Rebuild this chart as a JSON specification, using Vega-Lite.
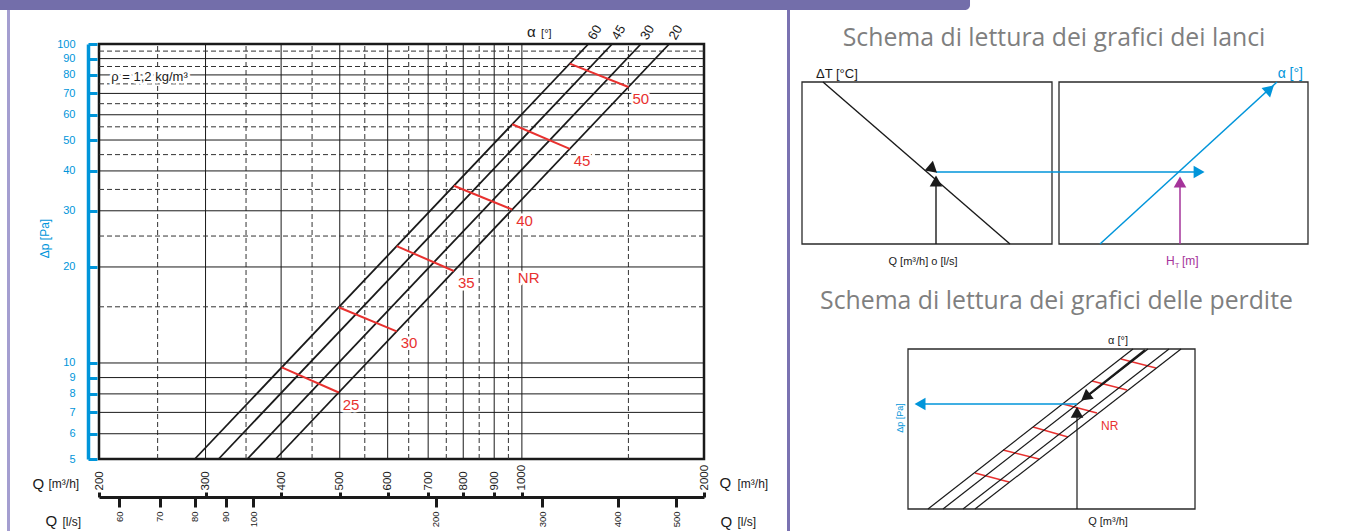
{
  "$schema": "https://vega.github.io/schema/vega-lite/v6.json",
  "padding": 0,
  "background": "white",
  "config": {
    "view": {"stroke": null},
    "axis": {"grid": false},
    "font": "Liberation Sans",
    "concat": {"spacing": 0}
  },
  "datasets": {
    "vmajor": [{"Q": 300}, {"Q": 400}, {"Q": 500}, {"Q": 600}, {"Q": 700}, {"Q": 800}, {"Q": 900}, {"Q": 1000}],
    "vminor": [{"Q": 250}, {"Q": 350}, {"Q": 450}, {"Q": 550}, {"Q": 650}, {"Q": 750}, {"Q": 850}, {"Q": 950}, {"Q": 1500}],
    "hmajor": [{"dp": 6}, {"dp": 7}, {"dp": 8}, {"dp": 9}, {"dp": 10}, {"dp": 20}, {"dp": 30}, {"dp": 40}, {"dp": 50}, {"dp": 60}, {"dp": 70}, {"dp": 80}, {"dp": 90}],
    "hminor": [{"dp": 15}, {"dp": 25}, {"dp": 35}, {"dp": 45}, {"dp": 55}, {"dp": 65}, {"dp": 75}, {"dp": 85}, {"dp": 95}],
    "curves": [
      {"alpha": "60", "Q": 288, "dp": 5}, {"alpha": "60", "Q": 1288, "dp": 100},
      {"alpha": "45", "Q": 315.3, "dp": 5}, {"alpha": "45", "Q": 1410, "dp": 100},
      {"alpha": "30", "Q": 351.7, "dp": 5}, {"alpha": "30", "Q": 1573, "dp": 100},
      {"alpha": "20", "Q": 391.8, "dp": 5}, {"alpha": "20", "Q": 1752, "dp": 100}
    ],
    "nr": [
      {"nr": "25", "q1": 401, "dp1": 9.69, "q2": 498, "dp2": 8.08},
      {"nr": "30", "q1": 498, "dp1": 14.95, "q2": 621, "dp2": 12.56},
      {"nr": "35", "q1": 621, "dp1": 23.25, "q2": 772, "dp2": 19.42},
      {"nr": "40", "q1": 772, "dp1": 35.93, "q2": 964, "dp2": 30.28},
      {"nr": "45", "q1": 964, "dp1": 56.02, "q2": 1200, "dp2": 46.91},
      {"nr": "50", "q1": 1200, "dp1": 86.8, "q2": 1500, "dp2": 73.3}
    ],
    "nrlabels": [
      {"label": "25", "Q": 498, "dp": 8.08},
      {"label": "30", "Q": 621, "dp": 12.56},
      {"label": "35", "Q": 772, "dp": 19.42},
      {"label": "40", "Q": 964, "dp": 30.28},
      {"label": "45", "Q": 1200, "dp": 46.91},
      {"label": "50", "Q": 1500, "dp": 73.3},
      {"label": "NR", "Q": 970, "dp": 20.1}
    ]
  },
  "spacing": 0,
  "bounds": "flush",
  "vconcat": [
    {
      "width": 1351, "height": 44,
      "encoding": {
        "x": {"field": "x", "type": "quantitative", "scale": {"domain": [0, 100], "nice": false, "zero": false}, "axis": null},
        "y": {"field": "y", "type": "quantitative", "scale": {"domain": [0, 100], "nice": false, "zero": false}, "axis": null}
      },
      "layer": [
        {"data": {"values": [{"x": 0, "x2": 71.8, "y": 77.27, "y2": 100}]},
          "mark": {"type": "rect", "color": "#736eaa", "cornerRadiusBottomRight": 10},
          "encoding": {"x2": {"field": "x2"}, "y2": {"field": "y2"}}},
        {"data": {"values": [{"x": 0.629, "x2": 0.629, "y": 0, "y2": 77.27}]},
          "mark": {"type": "rule", "color": "#a49ed0", "strokeWidth": 3},
          "encoding": {"x2": {"field": "x2"}, "y2": {"field": "y2"}}},
        {"data": {"values": [{"x": 58.364, "x2": 58.364, "y": 0, "y2": 77.27}]},
          "mark": {"type": "rule", "color": "#7a72b1", "strokeWidth": 3},
          "encoding": {"x2": {"field": "x2"}, "y2": {"field": "y2"}}}
      ]
    },
    {
      "spacing": 0,
      "bounds": "flush",
      "hconcat": [
        {"width": 7, "height": 487, "data": {"values": []}, "mark": "point"},
        {"width": 3, "height": 487, "data": {"values": [{}]}, "mark": {"type": "rect", "color": "#a49ed0"}, "encoding": {}},
        {"width": 89, "height": 487, "data": {"values": []}, "mark": "point"},
        {
          "width": 605, "height": 415,
          "view": {"stroke": "#1a1a1a", "strokeWidth": 2.5},
          "resolve": {"axis": {"x": "independent", "y": "independent"}},
          "layer": [
            {
              "data": {"name": "vmajor"},
              "mark": {"type": "rule", "color": "#1a1a1a", "strokeWidth": 1},
              "encoding": {
                "x": {"field": "Q", "type": "quantitative", "scale": {"type": "log", "domain": [200, 2000], "nice": false, "zero": false},
                  "axis": {"orient": "bottom", "values": [200, 300, 400, 500, 600, 700, 800, 900, 1000, 2000], "domain": false, "ticks": false, "tickSize": 0, "grid": false,
                    "labelAngle": 270, "labelAlign": "left", "labelBaseline": "middle", "labelPadding": 31, "labelFontSize": 11.5, "labelColor": "#1a1a1a",
                    "labelExpr": "datum.value", "labelOverlap": false, "labelFlush": false, "labelBound": false,
                    "title": "Q", "titleFontSize": 15, "titleFontWeight": "normal", "titleColor": "#1a1a1a", "titleAlign": "left", "titleBaseline": "alphabetic", "titleX": -67, "titleY": 29}},
                "y": {"datum": 5, "type": "quantitative", "scale": {"type": "log", "domain": [5, 100], "nice": false, "zero": false}, "axis": null},
                "y2": {"datum": 100}
              }
            },
            {
              "data": {"name": "vminor"},
              "mark": {"type": "rule", "color": "#333333", "strokeWidth": 1, "strokeDash": [5, 3]},
              "encoding": {
                "x": {"field": "Q", "type": "quantitative", "scale": {"type": "log", "domain": [200, 2000], "nice": false, "zero": false},
                  "axis": {"orient": "bottom", "offset": 33, "values": [200, 300, 400, 500, 600, 700, 800, 900, 1000, 2000], "domain": false, "ticks": true, "tickSize": 5, "tickWidth": 3, "tickColor": "#1a1a1a", "labels": false, "grid": false,
                    "title": "[m³/h]", "titleFontSize": 12, "titleFontWeight": "normal", "titleColor": "#1a1a1a", "titleAlign": "left", "titleBaseline": "alphabetic", "titleX": -51, "titleY": -5}},
                "y": {"datum": 5, "type": "quantitative", "scale": {"type": "log", "domain": [5, 100], "nice": false, "zero": false}, "axis": null},
                "y2": {"datum": 100}
              }
            },
            {
              "data": {"name": "hmajor"},
              "mark": {"type": "rule", "color": "#1a1a1a", "strokeWidth": 1},
              "encoding": {
                "y": {"field": "dp", "type": "quantitative", "scale": {"type": "log", "domain": [5, 100], "nice": false, "zero": false},
                  "axis": {"orient": "left", "offset": 11, "values": [5, 6, 7, 8, 9, 10, 20, 30, 40, 50, 60, 70, 80, 90, 100], "domain": true, "domainColor": "#0095da", "domainWidth": 3.5,
                    "ticks": false, "tickSize": 0, "grid": false, "labelColor": "#0095da", "labelFontSize": 11, "labelPadding": 13, "labelExpr": "datum.value", "labelOverlap": false, "labelFlush": false, "labelBound": false,
                    "title": "Δp [Pa]", "titleColor": "#0095da", "titleFontSize": 12, "titleFontWeight": "normal", "titleAngle": 270, "titleAlign": "center", "titleBaseline": "middle", "titleX": -44, "titleY": 194}},
                "x": {"datum": 200, "type": "quantitative", "scale": {"type": "log", "domain": [200, 2000], "nice": false, "zero": false}, "axis": null},
                "x2": {"datum": 2000}
              }
            },
            {
              "data": {"name": "hminor"},
              "mark": {"type": "rule", "color": "#333333", "strokeWidth": 1, "strokeDash": [5, 3]},
              "encoding": {
                "y": {"field": "dp", "type": "quantitative", "scale": {"type": "log", "domain": [5, 100], "nice": false, "zero": false},
                  "axis": {"orient": "left", "offset": 2, "values": [5, 6, 7, 8, 9, 10, 20, 30, 40, 50, 60, 70, 80, 90, 100], "domain": false, "ticks": true, "tickSize": 9, "tickWidth": 3, "tickColor": "#0095da", "labels": false, "grid": false, "title": null}},
                "x": {"datum": 200, "type": "quantitative", "scale": {"type": "log", "domain": [200, 2000], "nice": false, "zero": false}, "axis": null},
                "x2": {"datum": 2000}
              }
            },
            {
              "data": {"name": "curves"},
              "mark": {"type": "line", "color": "#1a1a1a", "strokeWidth": 1.8},
              "encoding": {
                "x": {"field": "Q", "type": "quantitative", "scale": {"type": "log", "domain": [200, 2000], "nice": false, "zero": false},
                  "axis": {"orient": "bottom", "offset": 38, "values": [216, 252, 288, 324, 360, 720, 1080, 1440, 1800], "domain": true, "domainColor": "#1a1a1a", "domainWidth": 3,
                    "ticks": true, "tickSize": 10, "tickWidth": 3, "tickColor": "#1a1a1a", "grid": false,
                    "labelAngle": 270, "labelAlign": "right", "labelBaseline": "middle", "labelPadding": 4, "labelFontSize": 9.5, "labelColor": "#1a1a1a",
                    "labelExpr": "round(datum.value/3.6)", "labelOverlap": false, "labelFlush": false, "labelBound": false,
                    "title": "Q", "titleFontSize": 15, "titleFontWeight": "normal", "titleColor": "#1a1a1a", "titleAlign": "left", "titleBaseline": "alphabetic", "titleX": -54, "titleY": 28}},
                "y": {"field": "dp", "type": "quantitative", "scale": {"type": "log", "domain": [5, 100], "nice": false, "zero": false}, "axis": null},
                "detail": {"field": "alpha"}
              }
            },
            {
              "data": {"name": "nr"},
              "mark": {"type": "rule", "color": "#e8312f", "strokeWidth": 2},
              "encoding": {
                "x": {"field": "q1", "type": "quantitative", "scale": {"type": "log", "domain": [200, 2000], "nice": false, "zero": false},
                  "axis": {"orient": "bottom", "domain": false, "ticks": false, "labels": false, "grid": false,
                    "title": "[l/s]", "titleFontSize": 12, "titleFontWeight": "normal", "titleColor": "#1a1a1a", "titleAlign": "left", "titleBaseline": "alphabetic", "titleX": -37, "titleY": 66}},
                "y": {"field": "dp1", "type": "quantitative", "scale": {"type": "log", "domain": [5, 100], "nice": false, "zero": false}, "axis": null},
                "x2": {"field": "q2"},
                "y2": {"field": "dp2"}
              }
            },
            {
              "data": {"name": "nrlabels"},
              "mark": {"type": "text", "align": "left", "baseline": "top", "dx": 4, "dy": 5, "fontSize": 15, "fill": "white", "stroke": "white", "strokeWidth": 5, "strokeJoin": "round"},
              "encoding": {
                "x": {"field": "Q", "type": "quantitative", "scale": {"type": "log", "domain": [200, 2000], "nice": false, "zero": false},
                  "axis": {"orient": "bottom", "domain": false, "ticks": false, "labels": false, "grid": false,
                    "title": "Q", "titleFontSize": 15, "titleFontWeight": "normal", "titleColor": "#1a1a1a", "titleAlign": "left", "titleBaseline": "alphabetic", "titleX": 620, "titleY": 28}},
                "y": {"field": "dp", "type": "quantitative", "scale": {"type": "log", "domain": [5, 100], "nice": false, "zero": false}, "axis": null},
                "text": {"field": "label"}
              }
            },
            {
              "data": {"name": "nrlabels"},
              "mark": {"type": "text", "align": "left", "baseline": "top", "dx": 4, "dy": 5, "fontSize": 15, "color": "#e8312f"},
              "encoding": {
                "x": {"field": "Q", "type": "quantitative", "scale": {"type": "log", "domain": [200, 2000], "nice": false, "zero": false},
                  "axis": {"orient": "bottom", "domain": false, "ticks": false, "labels": false, "grid": false,
                    "title": "[m³/h]", "titleFontSize": 12, "titleFontWeight": "normal", "titleColor": "#1a1a1a", "titleAlign": "left", "titleBaseline": "alphabetic", "titleX": 638, "titleY": 28}},
                "y": {"field": "dp", "type": "quantitative", "scale": {"type": "log", "domain": [5, 100], "nice": false, "zero": false}, "axis": null},
                "text": {"field": "label"}
              }
            },
            {
              "data": {"values": [{"label": "ρ = 1,2 kg/m³", "Q": 209.6, "dp": 76.5}]},
              "mark": {"type": "text", "align": "left", "baseline": "alphabetic", "fontSize": 13, "fill": "white", "stroke": "white", "strokeWidth": 5, "strokeJoin": "round"},
              "encoding": {
                "x": {"field": "Q", "type": "quantitative", "scale": {"type": "log", "domain": [200, 2000], "nice": false, "zero": false},
                  "axis": {"orient": "bottom", "domain": false, "ticks": false, "labels": false, "grid": false,
                    "title": "Q", "titleFontSize": 15, "titleFontWeight": "normal", "titleColor": "#1a1a1a", "titleAlign": "left", "titleBaseline": "alphabetic", "titleX": 621, "titleY": 67}},
                "y": {"field": "dp", "type": "quantitative", "scale": {"type": "log", "domain": [5, 100], "nice": false, "zero": false}, "axis": null},
                "text": {"field": "label"}
              }
            },
            {
              "data": {"values": [{"label": "ρ = 1,2 kg/m³", "Q": 209.6, "dp": 76.5}]},
              "mark": {"type": "text", "align": "left", "baseline": "alphabetic", "fontSize": 13, "color": "#1a1a1a"},
              "encoding": {
                "x": {"field": "Q", "type": "quantitative", "scale": {"type": "log", "domain": [200, 2000], "nice": false, "zero": false},
                  "axis": {"orient": "bottom", "domain": false, "ticks": false, "labels": false, "grid": false,
                    "title": "[l/s]", "titleFontSize": 12, "titleFontWeight": "normal", "titleColor": "#1a1a1a", "titleAlign": "left", "titleBaseline": "alphabetic", "titleX": 638, "titleY": 66}},
                "y": {"field": "dp", "type": "quantitative", "scale": {"type": "log", "domain": [5, 100], "nice": false, "zero": false}, "axis": null},
                "text": {"field": "label"}
              }
            },
            {
              "data": {"values": [{"label": "α", "Q": 1020, "dp": 105.5}]},
              "mark": {"type": "text", "align": "left", "baseline": "alphabetic", "fontSize": 15, "color": "#1a1a1a"},
              "encoding": {
                "x": {"field": "Q", "type": "quantitative", "scale": {"type": "log", "domain": [200, 2000], "nice": false, "zero": false}, "axis": null},
                "y": {"field": "dp", "type": "quantitative", "scale": {"type": "log", "domain": [5, 100], "nice": false, "zero": false}, "axis": null},
                "text": {"field": "label"}
              }
            },
            {
              "data": {"values": [{"label": "[°]", "Q": 1076, "dp": 105.5}]},
              "mark": {"type": "text", "align": "left", "baseline": "alphabetic", "fontSize": 11, "color": "#1a1a1a"},
              "encoding": {
                "x": {"field": "Q", "type": "quantitative", "scale": {"type": "log", "domain": [200, 2000], "nice": false, "zero": false}, "axis": null},
                "y": {"field": "dp", "type": "quantitative", "scale": {"type": "log", "domain": [5, 100], "nice": false, "zero": false}, "axis": null},
                "text": {"field": "label"}
              }
            },
            {
              "data": {"name": "curves"},
              "transform": [{"filter": "datum.dp == 100"}],
              "mark": {"type": "text", "align": "left", "baseline": "middle", "angle": 300, "dx": 6, "fontSize": 13, "color": "#1a1a1a"},
              "encoding": {
                "x": {"field": "Q", "type": "quantitative", "scale": {"type": "log", "domain": [200, 2000], "nice": false, "zero": false}, "axis": null},
                "y": {"field": "dp", "type": "quantitative", "scale": {"type": "log", "domain": [5, 100], "nice": false, "zero": false}, "axis": null},
                "text": {"field": "alpha"}
              }
            }
          ]
        },
        {"width": 83, "height": 487, "data": {"values": []}, "mark": "point"},
        {"width": 3, "height": 487, "data": {"values": [{}]}, "mark": {"type": "rect", "color": "#7a72b1"}, "encoding": {}},
        {
          "width": 561, "height": 487,
          "encoding": {
            "x": {"field": "x", "type": "quantitative", "scale": {"domain": [0, 100], "nice": false, "zero": false}, "axis": null},
            "y": {"field": "y", "type": "quantitative", "scale": {"domain": [0, 100], "nice": false, "zero": false}, "axis": null}
          },
          "layer": [
            {"data": {"values": [
                {"box": "lanci ΔT", "x": 2.139, "x2": 46.702, "y": 58.932, "y2": 92.197},
                {"box": "lanci α", "x": 47.95, "x2": 92.335, "y": 58.932, "y2": 92.197},
                {"box": "perdite", "x": 21.034, "x2": 72.193, "y": 4.517, "y2": 37.372}
              ]},
              "mark": {"type": "rect", "fillOpacity": 0, "stroke": "#2a2a2a", "strokeWidth": 1.3},
              "encoding": {"x2": {"field": "x2"}, "y2": {"field": "y2"}}},
            {"data": {"values": [
                {"t": "Schema di lettura dei grafici dei lanci", "x": 47.06, "y": 99.59},
                {"t": "Schema di lettura dei grafici delle perdite", "x": 47.5, "y": 45.59}
              ]},
              "mark": {"type": "text", "align": "center", "baseline": "alphabetic", "font": "Open Sans", "fontSize": 24.8, "color": "#7f7f7f"},
              "encoding": {"text": {"field": "t"}}},
            {"data": {"values": [
                {"x": 5.882, "y": 92.197, "x2": 39.216, "y2": 58.932},
                {"x": 26.025, "y": 58.932, "x2": 26.025, "y2": 72.279}
              ]},
              "mark": {"type": "rule", "color": "#1a1a1a", "strokeWidth": 1.4},
              "encoding": {"x2": {"field": "x2"}, "y2": {"field": "y2"}}},
            {"data": {"values": [
                {"x": 26.025, "y": 73.716, "x2": 72.73, "y2": 73.716},
                {"x": 55.258, "y": 58.932, "x2": 86.809, "y2": 92.197}
              ]},
              "mark": {"type": "rule", "color": "#0095da", "strokeWidth": 1.5},
              "encoding": {"x2": {"field": "x2"}, "y2": {"field": "y2"}}},
            {"data": {"values": [{"x": 69.519, "y": 58.932, "x2": 69.519, "y2": 70.842}]},
              "mark": {"type": "rule", "color": "#a5339a", "strokeWidth": 1.5},
              "encoding": {"x2": {"field": "x2"}, "y2": {"field": "y2"}}},
            {"data": {"values": [
                {"x": 32.977, "y": 11.91, "x2": 39.037, "y2": 10.062},
                {"x": 37.968, "y": 16.632, "x2": 44.385, "y2": 14.784},
                {"x": 43.316, "y": 21.355, "x2": 49.554, "y2": 19.302},
                {"x": 48.663, "y": 26.078, "x2": 54.724, "y2": 24.23},
                {"x": 53.832, "y": 30.801, "x2": 60.071, "y2": 28.953},
                {"x": 59.002, "y": 35.318, "x2": 65.241, "y2": 33.47}
              ]},
              "mark": {"type": "rule", "color": "#e8312f", "strokeWidth": 1.5},
              "encoding": {"x2": {"field": "x2"}, "y2": {"field": "y2"}}},
            {"data": {"values": [
                {"x": 24.599, "y": 4.517, "x2": 61.141, "y2": 37.372},
                {"x": 27.273, "y": 4.517, "x2": 63.815, "y2": 37.372},
                {"x": 30.838, "y": 4.517, "x2": 67.558, "y2": 37.372},
                {"x": 32.977, "y": 4.517, "x2": 69.697, "y2": 37.372},
                {"x": 51.159, "y": 4.517, "x2": 51.159, "y2": 23.614}
              ]},
              "mark": {"type": "rule", "color": "#1a1a1a", "strokeWidth": 1.2},
              "encoding": {"x2": {"field": "x2"}, "y2": {"field": "y2"}}},
            {"data": {"values": [{"x": 63.28, "y": 37.166, "x2": 52.941, "y2": 27.721}]},
              "mark": {"type": "rule", "color": "#1a1a1a", "strokeWidth": 2.2},
              "encoding": {"x2": {"field": "x2"}, "y2": {"field": "y2"}}},
            {"data": {"values": [{"x": 51.159, "y": 26.078, "x2": 22.995, "y2": 26.078}]},
              "mark": {"type": "rule", "color": "#0095da", "strokeWidth": 1.4},
              "encoding": {"x2": {"field": "x2"}, "y2": {"field": "y2"}}},
            {"data": {"values": [
                {"x": 25.223, "y": 74.538, "a": 131},
                {"x": 26.025, "y": 71.5, "a": 0},
                {"x": 52.941, "y": 27.721, "a": 232},
                {"x": 51.159, "y": 24.0, "a": 0}
              ]},
              "mark": {"type": "point", "shape": "triangle", "filled": true, "size": 160, "color": "#1a1a1a", "opacity": 1},
              "encoding": {"angle": {"field": "a", "type": "quantitative", "scale": null}}},
            {"data": {"values": [
                {"x": 72.6, "y": 73.716, "a": 90},
                {"x": 85.3, "y": 90.5, "a": 47.6},
                {"x": 23.5, "y": 26.078, "a": 270}
              ]},
              "mark": {"type": "point", "shape": "triangle", "filled": true, "size": 160, "color": "#0095da", "opacity": 1},
              "encoding": {"angle": {"field": "a", "type": "quantitative", "scale": null}}},
            {"data": {"values": [{"x": 69.519, "y": 71.3, "a": 0}]},
              "mark": {"type": "point", "shape": "triangle", "filled": true, "size": 160, "color": "#a5339a", "opacity": 1},
              "encoding": {"angle": {"field": "a", "type": "quantitative", "scale": null}}},
            {"data": {"values": [{"label": "ΔT [°C]", "x": 4.635, "y": 93.018}]},
              "mark": {"type": "text", "align": "left", "baseline": "alphabetic", "fontSize": 13, "color": "#1a1a1a"},
              "encoding": {"text": {"field": "label"}}},
            {"data": {"values": [{"label": "Q [m³/h] o [l/s]", "x": 23.708, "y": 54.62}, {"label": "Q [m³/h]", "x": 56.684, "y": 1.232}]},
              "mark": {"type": "text", "align": "center", "baseline": "alphabetic", "fontSize": 11, "color": "#1a1a1a"},
              "encoding": {"text": {"field": "label"}}},
            {"data": {"values": [{"label": "α [°]", "x": 91.444, "y": 93.018}]},
              "mark": {"type": "text", "align": "right", "baseline": "alphabetic", "fontSize": 14, "color": "#0095da"},
              "encoding": {"text": {"field": "label"}}},
            {"data": {"values": [{"label": "H", "x": 67.023, "y": 54.62}, {"label": "[m]", "x": 69.875, "y": 54.62}]},
              "mark": {"type": "text", "align": "left", "baseline": "alphabetic", "fontSize": 12, "color": "#a5339a"},
              "encoding": {"text": {"field": "label"}}},
            {"data": {"values": [{"label": "T", "x": 68.627, "y": 54.004}]},
              "mark": {"type": "text", "align": "left", "baseline": "alphabetic", "fontSize": 7, "color": "#a5339a"},
              "encoding": {"text": {"field": "label"}}},
            {"data": {"values": [{"label": "α [°]", "x": 58.467, "y": 38.398}]},
              "mark": {"type": "text", "align": "center", "baseline": "alphabetic", "fontSize": 11, "color": "#1a1a1a"},
              "encoding": {"text": {"field": "label"}}},
            {"data": {"values": [{"label": "NR", "x": 55.437, "y": 21.561}]},
              "mark": {"type": "text", "align": "left", "baseline": "middle", "fontSize": 12, "color": "#e8312f"},
              "encoding": {"text": {"field": "label"}}},
            {"data": {"values": [{"label": "Δp [Pa]", "x": 19.608, "y": 23.203}]},
              "mark": {"type": "text", "align": "center", "baseline": "middle", "angle": 270, "fontSize": 9, "color": "#0095da"},
              "encoding": {"text": {"field": "label"}}}
          ]
        }
      ]
    }
  ]
}
